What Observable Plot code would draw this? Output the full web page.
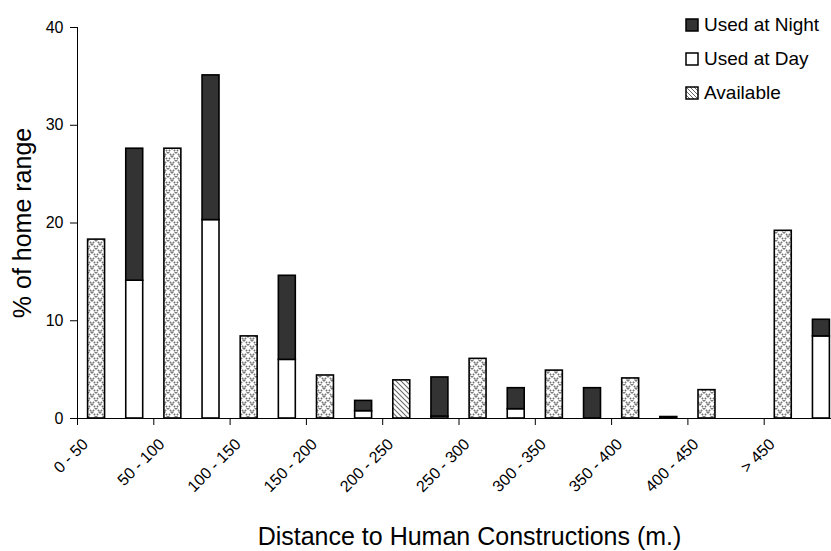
<!DOCTYPE html>
<html>
<head>
<meta charset="utf-8">
<script src="https://cdn.jsdelivr.net/npm/d3@7"></script>
<script src="https://cdn.jsdelivr.net/npm/@observablehq/plot@0.6"></script>
<style>
  html, body { margin: 0; padding: 0; background: #fff; overflow: hidden; }
  #wrap { position: relative; width: 831px; height: 551px; font-family: Arial, "Liberation Sans", sans-serif; }
  #legend { position: absolute; left: 685px; top: 8px; font-size: 19px; color: #000; }
  #legend .row { display: flex; align-items: center; height: 34px; }
  #legend svg { margin-right: 5px; }
</style>
</head>
<body>
<div id="wrap"><div id="chart"></div><div id="legend"></div></div>
<script>
// ---- data ----
const categories = ["0 - 50", "50 - 100", "100 - 150", "150 - 200", "200 - 250", "250 - 300", "300 - 350", "350 - 400", "400 - 450", "> 450"];
const available  = [18.3, 27.6, 8.4, 4.4, 3.9, 6.1, 4.9, 4.1, 2.9, 19.2];
const usedDay    = [14.1, 20.3, 6.0, 0.75, 0.2, 0.95, 0, 0, 0, 8.4];
const usedNight  = [13.5, 14.8, 8.6, 1.05, 4.0, 2.15, 3.1, 0.15, 0, 1.7];
const yTicks = [0, 10, 20, 30, 40];
const xTitle = ["Distance to Human Constructions (m.)"];
const yTitle = ["% of home range"];
const legendItems = ["Used at Night", "Used at Day", "Available"];

// ---- tables built from the arrays ----
const availData = categories.map((c, i) => ({i, cat: c, value: available[i]}));
const usedData = [];
categories.forEach((c, i) => {
  usedData.push({i, cat: c, series: "Day", value: usedDay[i]});
  usedData.push({i, cat: c, series: "Night", value: usedNight[i]});
});
const xTicks = d3.range(categories.length);

const inset = 10.6;
const chart = Plot.plot({
  width: 831,
  height: 551,
  marginLeft: 77,
  marginTop: 27,
  marginBottom: 133,
  marginRight: 0,
  style: {fontFamily: "Arial, 'Liberation Sans', sans-serif", fontSize: "16px", color: "#000", background: "#fff"},
  x: {type: "linear", domain: [0, categories.length], range: [77, 840], axis: null},
  y: {domain: [0, 40], axis: null},
  color: {type: "identity"},
  marks: [
    Plot.rectY(availData, {
      x1: d => d.i, x2: d => d.i + 0.5, y: "value",
      insetLeft: inset, insetRight: inset,
      fill: d => d.cat === "200 - 250" ? "url(#diagPat)" : "url(#dotPat)",
      stroke: "#000", strokeWidth: 1.6
    }),
    Plot.rectY(usedData, {
      x1: d => d.i + 0.5, x2: d => d.i + 1, y: "value",
      insetLeft: inset, insetRight: inset,
      fill: d => d.series === "Night" ? "#333333" : "#ffffff",
      stroke: "#000", strokeWidth: 1.6,
      filter: d => d.value > 0
    }),
    Plot.ruleY([0], {stroke: "#000", strokeWidth: 1}),
    Plot.ruleX([0], {stroke: "#000", strokeWidth: 1, y1: 0, y2: 40}),
    Plot.axisY({ticks: yTicks, tickSize: 7, tickPadding: 7, fontSize: 16, label: null, stroke: "#000"}),
    // tick marks at category boundaries
    Plot.axisX({ticks: xTicks, tickSize: 7, tickFormat: () => "", label: null, stroke: "#000"}),
    // rotated category labels
    Plot.axisX({ticks: xTicks, tickFormat: i => categories[i], tickSize: 0, tickRotate: -45, tickPadding: 23, dx: 8, fontSize: 16, label: null}),
    Plot.text(xTitle, {frameAnchor: "bottom", dx: 15, dy: 126, fontSize: 25}),
    Plot.text(yTitle, {frameAnchor: "left", textAnchor: "middle", rotate: -90, dx: -55, fontSize: 25})
  ]
});

const defs = d3.select(chart).insert("defs", ":first-child");
const dot = defs.append("pattern").attr("id", "dotPat").attr("patternUnits", "userSpaceOnUse").attr("width", 8).attr("height", 8);
dot.append("rect").attr("width", 8).attr("height", 8).attr("fill", "#ffffff");
dot.append("path").attr("d", "M0,0L8,8M8,0L0,8").attr("stroke", "#7a7a7a").attr("stroke-width", 1.8).attr("stroke-dasharray", "1.6,1.2");
const diag = defs.append("pattern").attr("id", "diagPat").attr("patternUnits", "userSpaceOnUse").attr("width", 5).attr("height", 5);
diag.append("rect").attr("width", 5).attr("height", 5).attr("fill", "#ffffff");
diag.append("path").attr("d", "M-1,-1L6,6M-1,4L1,6M4,-1L6,1").attr("stroke", "#6a6a6a").attr("stroke-width", 1.1);

document.getElementById("chart").appendChild(chart);

// legend
const swatchFill = ["#333333", "#ffffff", "url(#legDiag)"];
const legend = d3.select("#legend");
legendItems.forEach((name, k) => {
  const row = legend.append("div").attr("class", "row");
  const s = row.append("svg").attr("width", 14).attr("height", 14);
  if (k === 2) {
    const p = s.append("defs").append("pattern").attr("id", "legDiag").attr("patternUnits", "userSpaceOnUse").attr("width", 4).attr("height", 4);
    p.append("rect").attr("width", 4).attr("height", 4).attr("fill", "#fff");
    p.append("path").attr("d", "M-1,-1L5,5M-1,3L1,5M3,-1L5,1").attr("stroke", "#666").attr("stroke-width", 1);
  }
  s.append("rect").attr("x", 1).attr("y", 1).attr("width", 12).attr("height", 12)
    .attr("fill", swatchFill[k]).attr("stroke", "#000").attr("stroke-width", 1.5);
  row.append("span").text(name);
});
</script>
</body>
</html>
